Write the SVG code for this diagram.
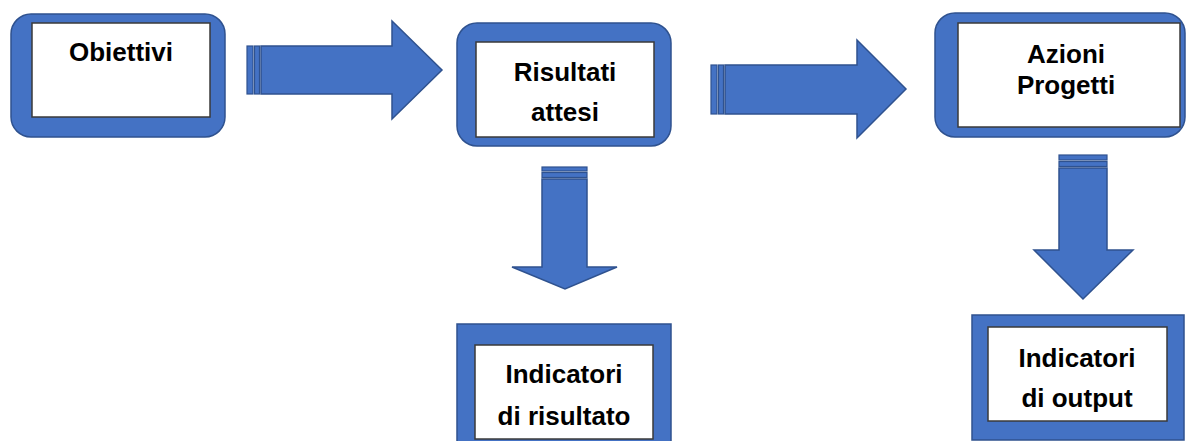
<svg xmlns="http://www.w3.org/2000/svg" width="1190" height="441" viewBox="0 0 1190 441">
<style>
.frame{fill:#4472C4;stroke:#2F528F;stroke-width:1.5}
.inner{fill:#FFFFFF;stroke:#3A3A3A;stroke-width:1.5}
.arrow{fill:#4472C4;stroke:#2F528F;stroke-width:1.5;stroke-linejoin:miter}
.stripe{fill:#4472C4;stroke:#2F528F;stroke-width:1.2}
.lbl{font-family:"Liberation Sans",Arial,sans-serif;font-weight:bold;font-size:26px;fill:#000;text-anchor:middle}
</style>
<rect width="1190" height="441" fill="#FFFFFF"/>
<g id="connectors">
  <g id="arrow-obiettivi-risultati">
    <rect class="stripe" x="247" y="46" width="6" height="48"/>
    <rect class="stripe" x="254.5" y="46" width="5" height="48"/>
    <polygon class="arrow" points="261,46 392,46 392,21 442,70 392,119 392,94 261,94"/>
  </g>
  <g id="arrow-risultati-azioni">
    <rect class="stripe" x="711" y="65" width="6" height="49"/>
    <rect class="stripe" x="718.5" y="65" width="5" height="49"/>
    <polygon class="arrow" points="725,65 857,65 857,40 906,89 857,138 857,114 725,114"/>
  </g>
  <g id="arrow-risultati-indicatori">
    <rect class="stripe" x="542" y="167" width="45" height="4"/>
    <rect class="stripe" x="542" y="172.5" width="45" height="5"/>
    <polygon class="arrow" points="542,179 587,179 587,267 617,267 565,289 512,267 542,267"/>
  </g>
  <g id="arrow-azioni-indicatori">
    <rect class="stripe" x="1059" y="155" width="48" height="5"/>
    <rect class="stripe" x="1059" y="161.5" width="48" height="5"/>
    <polygon class="arrow" points="1059,168 1107,168 1107,250 1133,250 1083,299 1034,250 1059,250"/>
  </g>
</g>
<g id="node-obiettivi">
  <rect class="frame" x="11" y="14" width="214" height="123" rx="20"/>
  <rect class="inner" x="32" y="23" width="178" height="94"/>
  <text class="lbl" x="121" y="61">Obiettivi</text>
</g>
<g id="node-risultati">
  <rect class="frame" x="457" y="23" width="214" height="123" rx="20"/>
  <rect class="inner" x="476" y="42" width="178" height="95"/>
  <text class="lbl" x="565" y="81">Risultati</text>
  <text class="lbl" x="565" y="121">attesi</text>
</g>
<g id="node-azioni">
  <rect class="frame" x="935" y="13" width="250" height="124" rx="20"/>
  <rect class="inner" x="958" y="23" width="222" height="104"/>
  <text class="lbl" x="1066" y="63">Azioni</text>
  <text class="lbl" x="1066" y="94">Progetti</text>
</g>
<g id="node-indicatori-risultato">
  <rect class="frame" x="457" y="324" width="214" height="130"/>
  <rect class="inner" x="475" y="345" width="178" height="94"/>
  <text class="lbl" x="564" y="383">Indicatori</text>
  <text class="lbl" x="564" y="425">di risultato</text>
</g>
<g id="node-indicatori-output">
  <rect class="frame" x="972" y="315" width="212" height="125"/>
  <rect class="inner" x="988" y="327" width="179" height="94"/>
  <text class="lbl" x="1077" y="367">Indicatori</text>
  <text class="lbl" x="1077" y="407">di output</text>
</g>
</svg>
